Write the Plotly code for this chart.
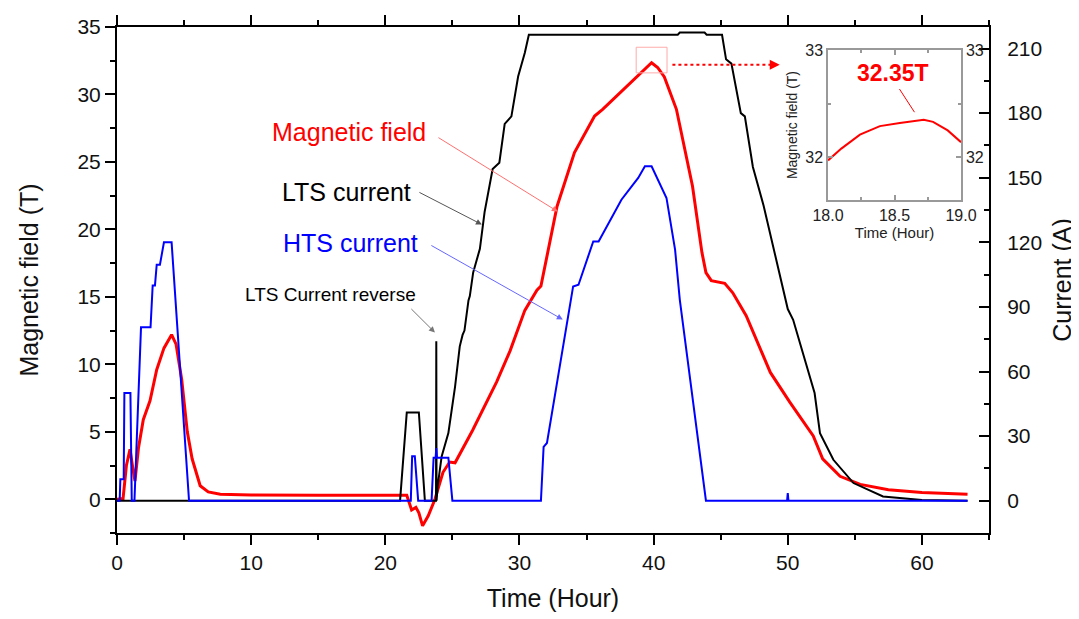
import plotly.graph_objects as go

# ---------------- data ----------------
field_t = [0, 0.45, 0.7, 0.97, 1.15, 1.34, 1.6, 1.96, 2.46, 2.7, 2.96, 3.5, 4.07, 4.4, 4.82,
           5.24, 5.6, 6.2, 6.8, 7.7, 10, 15, 21.6, 21.96, 22.28, 22.5, 22.78, 23.2, 23.7,
           24.3, 24.8, 25.2, 26.5, 28.3, 29.3, 30.4, 31.3, 31.6, 32.8, 34.1, 35.6, 36.2,
           38.0, 39.3, 39.85, 40.3, 40.8, 41.7, 42.9, 43.6, 43.9, 44.3, 45.3, 45.9, 46.9,
           48.7, 50.15, 51.9, 52.6, 53.9, 55.4, 57.5, 60, 63.4]
field_T = [0, 0.05, 2.5, 3.7, 2.5, 1.35, 3.8, 5.9, 7.3, 8.5, 9.6, 11.2, 12.2, 11.5, 8.9,
           5.0, 3.0, 1.0, 0.55, 0.37, 0.32, 0.3, 0.3, -0.79, -0.6, -1.0, -1.97, -1.23, 0.0,
           2.0, 2.76, 2.7, 5.1, 8.7, 11.0, 14.0, 15.5, 15.8, 21.7, 25.7, 28.4, 28.9,
           30.6, 31.9, 32.35, 32.0, 31.3, 28.9, 23.2, 18.3, 16.8, 16.2, 16.0, 15.3, 13.6,
           9.4, 7.2, 4.7, 3.0, 1.7, 1.1, 0.7, 0.5, 0.37]

lts_t = [0, 21.1, 21.6, 22.5, 22.95, 23.78, 23.8, 23.82, 23.9, 24.2, 24.7, 25.2, 25.55,
         25.76, 25.9, 26.2, 26.3, 26.55, 27.05, 27.4, 28.0, 28.5, 28.9, 29.4, 29.9, 30.4,
         30.7, 41.8, 41.95, 43.8, 43.95, 45.1, 45.4, 45.8, 46.5, 46.8, 47.4, 48.2, 50.0,
         50.4, 52.0, 52.4, 53.4, 54.9, 57.1, 60, 63.4]
lts_A = [0, 0, 41, 41, 0, 0, 74, 0, 6.6, 20.6, 31.4, 53, 71.7,
         77, 79, 93, 95, 106, 117, 134, 154, 157, 175, 178.5, 197, 208,
         216.4, 216.4, 217.4, 217.4, 216.4, 216.4, 205, 203, 180, 178.5, 155, 137, 89,
         84, 50, 31.4, 19, 8.2, 2, 0.3, 0]

hts_t = [0, 0.2, 0.25, 0.5, 0.55, 1.0, 1.1, 1.3, 1.79, 2.5, 2.66, 2.83, 2.96, 3.2, 3.5,
         4.07, 5.37, 21.9, 22.0, 22.2, 22.45, 23.45, 23.6, 23.75, 23.8, 23.85, 24.7, 25.0,
         31.6, 31.8, 32.05, 34.0, 34.4, 35.5, 35.9, 37.6, 38.85, 39.35, 39.85, 40.96,
         41.6, 41.95, 43.9, 49.95, 50.0, 50.05, 63.4]
hts_A = [0, 0, 10, 10, 50, 50, 0, 0, 80.5, 80.5, 100, 100, 109.6, 109.6, 120,
         120, 0, 0, 20.6, 20.6, 0, 0, 20, 20, 24.5, 20, 20, 0,
         0, 25, 26.8, 99.5, 100.3, 120.4, 120.4, 139.8, 149.9, 155.3, 155.3, 140.6,
         116.6, 93.4, 0, 0, 3.5, 0, 0]

inset_t = [18.0, 18.1, 18.24, 18.39, 18.54, 18.65, 18.72, 18.79, 18.9, 19.0]
inset_T = [31.97, 32.08, 32.21, 32.29, 32.32, 32.34, 32.35, 32.33, 32.25, 32.14]

x_ticks = [0, 10, 20, 30, 40, 50, 60]
yl_ticks = [0, 5, 10, 15, 20, 25, 30, 35]
yr_ticks = [0, 30, 60, 90, 120, 150, 180, 210]

FONT = "Arial, Liberation Sans, sans-serif"
RED, BLUE, BLACK = "#ff0000", "#0000ff", "#000000"

fig = go.Figure()
fig.add_trace(go.Scatter(x=lts_t, y=lts_A, mode="lines", line=dict(color=BLACK, width=2),
                         xaxis="x", yaxis="y2", name="LTS current"))
fig.add_trace(go.Scatter(x=hts_t, y=hts_A, mode="lines", line=dict(color=BLUE, width=2),
                         xaxis="x", yaxis="y2", name="HTS current"))
fig.add_trace(go.Scatter(x=field_t, y=field_T, mode="lines", line=dict(color=RED, width=3),
                         xaxis="x", yaxis="y", name="Magnetic field"))
fig.add_trace(go.Scatter(x=inset_t, y=inset_T, mode="lines", line=dict(color=RED, width=2),
                         xaxis="x3", yaxis="y3", name="inset"))
fig.add_trace(go.Scatter(x=inset_t, y=inset_T, mode="lines", line=dict(color="rgba(0,0,0,0)"),
                         xaxis="x3", yaxis="y4", hoverinfo="skip"))

axis_common = dict(showgrid=False, zeroline=False, showline=True, linecolor=BLACK,
                   linewidth=2, tickcolor=BLACK, tickwidth=2, ticklen=10, automargin=False,
                   tickfont=dict(family=FONT, size=21, color="#111"))
inset_common = dict(automargin=False, showgrid=False, zeroline=False, showline=True,
                    linecolor="#999", linewidth=1.5, ticks="inside", ticklen=5,
                    tickcolor="#999", tickwidth=1.5,
                    tickfont=dict(family=FONT, size=16, color="#222"))

# the page body adds an 8px offset, so the figure is 8px smaller and margins shifted
fig.update_layout(
    width=1071, height=611, autosize=False,
    margin=dict(l=109, r=90, t=19, b=86),
    paper_bgcolor="white", plot_bgcolor="white", showlegend=False,
    xaxis=dict(**axis_common, domain=[0, 1], range=[0, 65], tickvals=x_ticks,
               ticks="outside", mirror="ticks", anchor="y",
               minor=dict(dtick=5, tick0=0, ticklen=5, tickwidth=2, ticks="outside", tickcolor=BLACK),
               title=dict(text="Time (Hour)", font=dict(family=FONT, size=25, color="#111"), standoff=16)),
    yaxis=dict(**axis_common, range=[-2.5, 35], tickvals=yl_ticks, ticks="outside",
               anchor="x",
               minor=dict(dtick=2.5, tick0=0, ticklen=5, tickwidth=2, ticks="outside", tickcolor=BLACK),
               title=dict(text="Magnetic field (T)", font=dict(family=FONT, size=25, color="#111"), standoff=32)),
    yaxis2=dict(**axis_common, range=[-15, 220], tickvals=yr_ticks, ticks="inside",
                overlaying="y", side="right", anchor="x",
                minor=dict(dtick=15, tick0=0, ticklen=5, tickwidth=2, ticks="inside", tickcolor=BLACK),
                ticklabelstandoff=12,
                title=dict(text="Current (A)", font=dict(family=FONT, size=25, color="#111"), standoff=12)),
    xaxis3=dict(**inset_common, domain=[0.8154, 0.9679], range=[18, 19], anchor="y3",
                tickvals=[18.0, 18.5, 19.0], tickformat=".1f", mirror="ticks",
                minor=dict(dtick=0.25, tick0=18, ticks="inside", ticklen=3, tickcolor="#999"),
                title=dict(text="Time (Hour)", font=dict(family=FONT, size=15, color="#222"), standoff=2)),
    yaxis3=dict(**inset_common, domain=[0.658, 0.9545], range=[31.6, 33], anchor="x3",
                tickvals=[32, 33],
                minor=dict(dtick=0.5, tick0=32, ticks="inside", ticklen=3, tickcolor="#999"),
                title=dict(text="Magnetic field (T)", font=dict(family=FONT, size=14, color="#222"), standoff=4)),
    yaxis4=dict(**inset_common, range=[31.6, 33], overlaying="y3", side="right", anchor="x3",
                tickvals=[32, 33],
                minor=dict(dtick=0.5, tick0=32, ticks="inside", ticklen=3, tickcolor="#999")),
)

# red marker box around peak and dotted pointer to inset
fig.add_shape(type="rect", xref="x", yref="y", x0=38.7, x1=41.0, y0=31.6, y1=33.5,
              line=dict(color="#ffaaaa", width=1))
fig.add_shape(type="line", xref="x", yref="y", x0=41.4, x1=48.8, y0=32.2, y1=32.2,
              line=dict(color=RED, width=2, dash="dot"))


def arrow(x, y, ax, ay, color, width=1, xr="x", yr="y", head=2, size=1.2):
    fig.add_annotation(x=x, y=y, ax=ax, ay=ay, xref=xr, yref=yr, axref=xr, ayref=yr,
                       text="", showarrow=True, arrowhead=head, arrowsize=size,
                       arrowwidth=width, arrowcolor=color)


arrow(49.4, 32.2, 48.6, 32.2, RED, width=2, size=1)
arrow(32.86, 21.32, 23.85, 26.87, "#ff7070")
arrow(27.2, 20.36, 22.43, 22.8, "#555555")
arrow(33.23, 13.32, 23.32, 18.87, "#6666ff")
arrow(23.7, 12.36, 21.83, 14.21, "#777777")
arrow(18.65, 32.42, 18.53, 32.65, RED, xr="x3", yr="y3", head=0)


def label(x, y, text, color, size, bold=False, xr="x", yr="y"):
    fig.add_annotation(x=x, y=y, xref=xr, yref=yr, text=f"<b>{text}</b>" if bold else text,
                       showarrow=False, xanchor="center", yanchor="middle",
                       font=dict(family=FONT, size=size, color=color))


label(17.3, 27.2, "Magnetic field", RED, 25)
label(17.1, 22.8, "LTS current", BLACK, 25)
label(17.4, 19.0, "HTS current", BLUE, 25)
label(15.95, 15.2, "LTS Current reverse", BLACK, 19)
label(18.49, 32.79, "32.35T", RED, 23, bold=True, xr="x3", yr="y3")

fig.write_html("out.html")
